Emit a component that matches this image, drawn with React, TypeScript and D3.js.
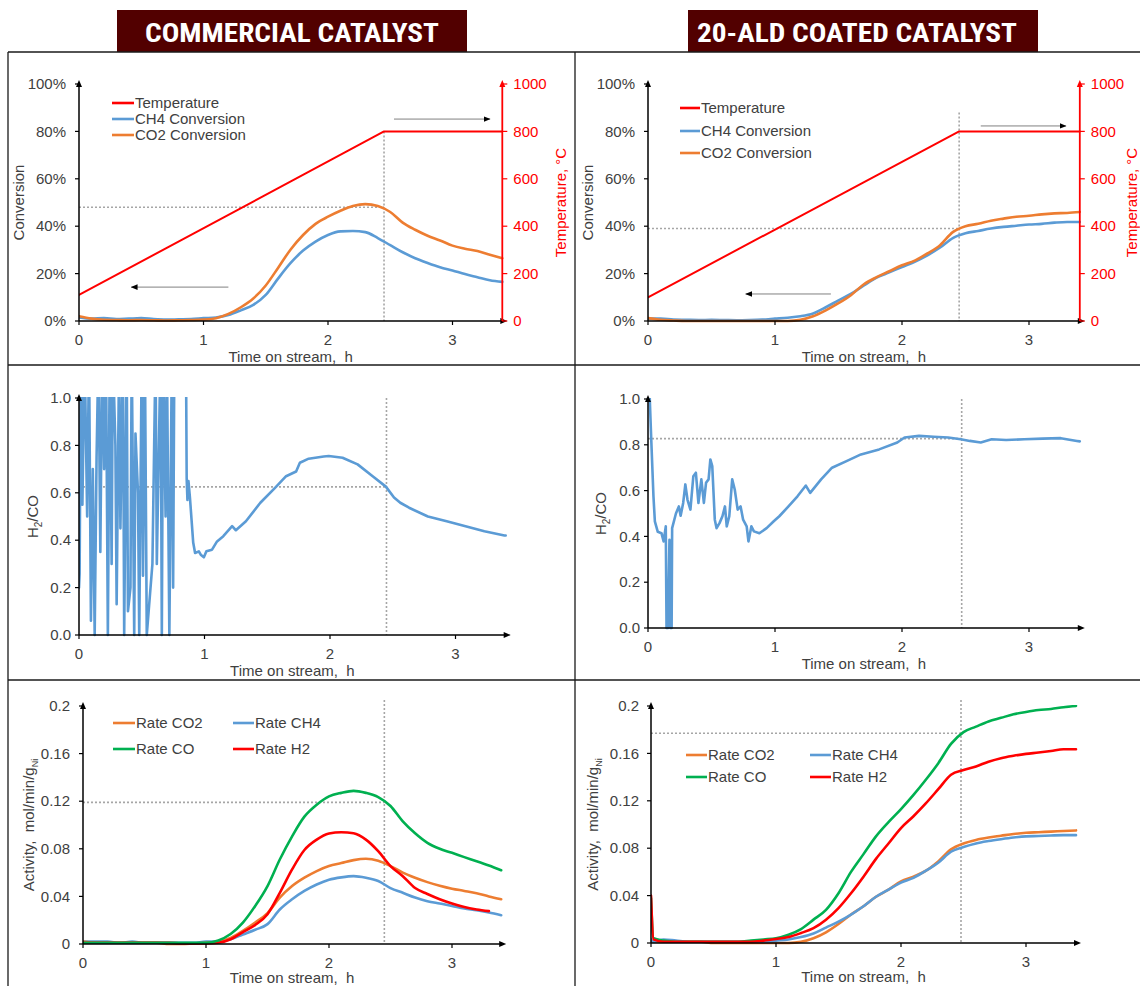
import React from 'react';
import * as d3 from 'd3';

type Pair = [number, number | null];

const FONT = '"Liberation Sans", Arial, sans-serif';
const TITLE_FONT = '"Liberation Sans Narrow", "Roboto Condensed", "DejaVu Sans Condensed", "Liberation Sans", sans-serif';
const TXT = '#404040';
const BLUE = '#5B9BD5';
const ORANGE = '#ED7D31';
const GREEN = '#00B050';
const RED = '#FF0000';
const DOT = '#A6A6A6';

// ---------- data ----------
const hours = [0, 0.1, 0.2, 0.3, 0.4, 0.5, 0.6, 0.7, 0.8, 0.9, 1.0, 1.1, 1.2, 1.3, 1.4, 1.5, 1.6, 1.7,
  1.8, 1.9, 2.0, 2.1, 2.2, 2.3, 2.4, 2.5, 2.6, 2.7, 2.8, 2.9, 3.0, 3.1, 3.2, 3.3, 3.4];
const hoursAld = [0, 0.02, 0.1, 0.2, 0.3, 0.4, 0.5, 0.6, 0.7, 0.8, 0.9, 1.0, 1.1, 1.2, 1.3, 1.4, 1.5, 1.6, 1.7,
  1.8, 1.9, 2.0, 2.1, 2.2, 2.3, 2.4, 2.5, 2.6, 2.7, 2.8, 2.9, 3.0, 3.1, 3.2, 3.3, 3.4];

const xTicks = [0, 1, 2, 3];
const convTicks = [0, 0.2, 0.4, 0.6, 0.8, 1];
const tempTicks = [0, 200, 400, 600, 800, 1000];
const ratioTicks = [0, 0.2, 0.4, 0.6, 0.8, 1];
const rateTicks = [0, 0.04, 0.08, 0.12, 0.16, 0.2];

// commercial catalyst: conversion (fraction)
const comCH4 = [0.015, 0.01, 0.012, 0.008, 0.01, 0.012, 0.008, 0.006, 0.007, 0.008, 0.012, 0.015, 0.025, 0.045,
  0.068, 0.11, 0.18, 0.245, 0.297, 0.335, 0.363, 0.378, 0.38, 0.375, 0.35, 0.32, 0.29, 0.265, 0.245, 0.227,
  0.213, 0.198, 0.185, 0.172, 0.165];
const comCO2 = [0.02, 0.01, 0.005, 0.004, 0.003, 0.004, 0.003, 0.002, 0.003, 0.004, 0.006, 0.012, 0.03, 0.058,
  0.095, 0.15, 0.225, 0.302, 0.363, 0.41, 0.44, 0.465, 0.485, 0.493, 0.485, 0.46, 0.415, 0.385, 0.36, 0.34,
  0.318, 0.305, 0.295, 0.28, 0.265];
const comTemp: Pair[] = [[0, 110], [2.45, 800], [3.4, 800]];

// ALD coated catalyst: conversion (fraction)
const aldCH4 = [0.01, 0.01, 0.006, 0.005, 0.004, 0.005, 0.004, 0.003, 0.004, 0.006, 0.01, 0.014, 0.02, 0.032,
  0.058, 0.087, 0.115, 0.15, 0.183, 0.205, 0.228, 0.25, 0.277, 0.31, 0.35, 0.37, 0.38, 0.39, 0.397, 0.402,
  0.407, 0.41, 0.415, 0.418, 0.418];
const aldCO2 = [0.012, 0.005, 0.002, 0, 0, 0, 0, 0, 0, 0, 0, 0, 0.005, 0.02, 0.045, 0.075, 0.11, 0.155, 0.185,
  0.21, 0.235, 0.255, 0.285, 0.32, 0.375, 0.4, 0.41, 0.423, 0.432, 0.44, 0.444, 0.45, 0.454, 0.456, 0.46];
const aldTemp: Pair[] = [[0, 100], [2.45, 800], [3.4, 800]];

// H2/CO ratio
const comRatio: Pair[] = [[0, 0.2], [0.005, 0.26], [0.015, 1.2], [0.027, 0.55], [0.045, 1.2], [0.065, 0.5],
  [0.08, 1.2], [0.095, 0.06], [0.11, 0.7], [0.125, 0], [0.14, 0.75], [0.155, 1.2], [0.17, 0.35], [0.185, 1.2],
  [0.2, 0.7], [0.215, 1.2], [0.23, 0], [0.245, 1.2], [0.26, 0.3], [0.27, 1.2], [0.29, 0.8], [0.3, 0.13],
  [0.32, 1.2], [0.33, 0.45], [0.35, 1.2], [0.36, 0], [0.38, 1.2], [0.39, 0.1], [0.41, 0.2], [0.42, 1.2],
  [0.44, 0], [0.45, 0.85], [0.47, 0.6], [0.48, 0], [0.5, 1.2], [0.51, 0.25], [0.525, 1.2], [0.54, 0],
  [0.585, 0.3], [0.61, 1.2], [0.62, 0.3], [0.65, 1.2], [0.66, 0], [0.67, 1.2], [0.69, 0.5], [0.7, 1.2],
  [0.72, 0], [0.74, 1.2], [0.75, 0.2], [0.76, 1.2], [0.85, 1.4], [0.858, 0.66], [0.864, 0.57], [0.872, 0.65],
  [0.884, 0.58], [0.91, 0.39], [0.925, 0.346], [0.955, 0.353], [0.97, 0.339], [0.995, 0.328], [1.015, 0.353],
  [1.06, 0.36], [1.1, 0.395], [1.15, 0.417], [1.22, 0.459], [1.25, 0.442], [1.33, 0.48], [1.445, 0.558],
  [1.56, 0.62], [1.65, 0.67], [1.73, 0.69], [1.76, 0.727], [1.83, 0.744], [1.95, 0.753], [1.99, 0.755],
  [2.1, 0.748], [2.22, 0.72], [2.34, 0.67], [2.445, 0.626], [2.51, 0.58], [2.56, 0.558], [2.63, 0.537],
  [2.78, 0.5], [2.93, 0.48], [3.08, 0.459], [3.23, 0.438], [3.39, 0.42], [3.4, 0.42]];
const aldRatio: Pair[] = [[0, 1.2], [0.014, 1.0], [0.026, 0.817], [0.043, 0.575], [0.054, 0.466], [0.077, 0.42],
  [0.106, 0.414], [0.123, 0.378], [0.14, 0.444], [0.146, 0], [0.157, 0], [0.169, 0.385], [0.177, 0], [0.186, 0],
  [0.19, 0.436], [0.22, 0.5], [0.243, 0.531], [0.257, 0.49], [0.277, 0.546], [0.294, 0.627], [0.311, 0.56],
  [0.334, 0.517], [0.357, 0.663], [0.377, 0.678], [0.397, 0.546], [0.42, 0.649], [0.44, 0.546], [0.457, 0.634],
  [0.477, 0.649], [0.491, 0.736], [0.506, 0.707], [0.526, 0.473], [0.54, 0.436], [0.563, 0.458], [0.586, 0.488],
  [0.606, 0.531], [0.62, 0.444], [0.64, 0.488], [0.663, 0.649], [0.683, 0.605], [0.706, 0.517], [0.729, 0.531],
  [0.749, 0.473], [0.777, 0.444], [0.791, 0.378], [0.814, 0.444], [0.834, 0.422], [0.877, 0.414], [0.934, 0.436],
  [0.99, 0.466], [1.034, 0.488], [1.106, 0.531], [1.177, 0.575], [1.243, 0.622], [1.277, 0.59], [1.363, 0.649],
  [1.449, 0.7], [1.563, 0.729], [1.677, 0.758], [1.82, 0.78], [1.963, 0.81], [2.02, 0.832], [2.134, 0.839],
  [2.249, 0.835], [2.363, 0.832], [2.463, 0.824], [2.534, 0.817], [2.62, 0.81], [2.706, 0.824], [2.82, 0.821],
  [2.963, 0.824], [3.106, 0.827], [3.25, 0.829], [3.377, 0.817], [3.4, 0.815]];

// activity, mol/min/gNi
const comRateCO2 = [0.002, 0.001, 0.001, 0.001, 0.001, 0.001, 0.001, 0, 0, 0.0005, 0.001, 0.002, 0.005, 0.011,
  0.018, 0.026, 0.039, 0.0487, 0.0557, 0.0613, 0.0655, 0.068, 0.0705, 0.0716, 0.07, 0.0655, 0.06, 0.0557, 0.052,
  0.049, 0.0465, 0.0446, 0.0426, 0.04, 0.0376];
const comRateCH4 = [0.002, 0.002, 0.002, 0.001, 0.002, 0.001, 0.001, 0.001, 0.001, 0.001, 0.002, 0.002, 0.004,
  0.008, 0.012, 0.0167, 0.029, 0.0376, 0.0446, 0.05, 0.054, 0.056, 0.057, 0.0557, 0.053, 0.047, 0.043, 0.039,
  0.036, 0.034, 0.032, 0.0298, 0.0284, 0.0265, 0.0242];
const comRateCO = [0.001, 0.001, 0.001, 0.001, 0.001, 0.001, 0.001, 0.001, 0.001, 0.001, 0.001, 0.003, 0.0084,
  0.018, 0.032, 0.0487, 0.071, 0.0905, 0.107, 0.117, 0.124, 0.127, 0.1287, 0.127, 0.1235, 0.116, 0.103, 0.093,
  0.085, 0.08, 0.0766, 0.073, 0.0696, 0.066, 0.062];
const comRateH2 = [0.001, 0.001, 0.001, 0.001, 0.001, 0.001, 0.001, 0.001, 0.0005, 0.0005, 0.0005, 0.001, 0.004,
  0.01, 0.016, 0.025, 0.043, 0.0627, 0.079, 0.0877, 0.0928, 0.0939, 0.093, 0.0877, 0.078, 0.0655, 0.057, 0.047,
  0.042, 0.0376, 0.034, 0.031, 0.029, 0.0276, null];

const aldRateCO2 = [0.002, 0.001, 0.001, 0.001, 0.001, 0.001, 0, 0, 0, 0, 0, 0, 0, 0.001, 0.004, 0.009, 0.016,
  0.024, 0.031, 0.039, 0.045, 0.052, 0.056, 0.061, 0.069, 0.079, 0.084, 0.087, 0.089, 0.0905, 0.092, 0.093,
  0.0935, 0.094, 0.0945, 0.095];
const aldRateCH4 = [0.003, 0.001, 0.003, 0.002, 0.001, 0.001, 0.001, 0.001, 0.001, 0.001, 0.001, 0.002, 0.003,
  0.005, 0.008, 0.013, 0.018, 0.024, 0.031, 0.039, 0.045, 0.051, 0.055, 0.061, 0.068, 0.077, 0.081, 0.084, 0.086,
  0.0876, 0.089, 0.09, 0.0903, 0.0907, 0.091, 0.091];
const aldRateCO = [0.038, 0.004, 0.002, 0.001, 0.001, 0.001, 0.001, 0.001, 0.001, 0.002, 0.003, 0.004, 0.007,
  0.0118, 0.0197, 0.028, 0.042, 0.06, 0.075, 0.09, 0.102, 0.113, 0.125, 0.138, 0.152, 0.168, 0.178, 0.1826, 0.187,
  0.19, 0.193, 0.195, 0.1966, 0.1975, 0.199, 0.2];
const aldRateH2 = [0.04, 0.003, 0.001, 0.001, 0.001, 0.001, 0.001, 0.001, 0.001, 0.001, 0.002, 0.0034, 0.005,
  0.0084, 0.0126, 0.0197, 0.0295, 0.042, 0.056, 0.071, 0.084, 0.097, 0.107, 0.118, 0.13, 0.142, 0.146, 0.149,
  0.153, 0.156, 0.158, 0.1596, 0.1607, 0.162, 0.1635, 0.1635];

const zip = (ts: number[], vs: (number | null)[]): Pair[] => ts.map((t, i) => [t, vs[i]]);

// ---------- components ----------
interface Series { data: Pair[]; color: string; width?: number; smooth?: boolean; temp?: boolean }
interface LegendItem { label: string; color: string; x: number; y: number; len: number }

interface PanelProps {
  id: string;
  x0: number; pxh: number; yTop: number; yBot: number;
  yMax: number; yTicks: number[]; yFmt: (v: number) => string; labelGap: number;
  yTitle: React.ReactNode; yTitleX: number;
  xTitleDy?: number;
  series: Series[];
  refT: number; refV: number; refTop: number;
  tempAxis?: { titleX: number };
  legend: LegendItem[];
  arrows?: { t1: number; t2: number; v: number }[];
}

function Panel(p: PanelProps) {
  const x = d3.scaleLinear().domain([0, 3.4]).range([p.x0, p.x0 + 3.4 * p.pxh]);
  const y = d3.scaleLinear().domain([0, p.yMax]).range([p.yBot, p.yTop]);
  const yT = d3.scaleLinear().domain([0, 1000]).range([p.yBot, p.yTop]);
  const xEnd = x(3.4);
  const cy = (p.yTop + p.yBot) / 2;

  const mkLine = (s: Series) => {
    const sy = s.temp ? yT : y;
    return d3.line<Pair>()
      .defined((d) => d[1] != null)
      .x((d) => x(d[0]))
      .y((d) => sy(d[1] as number))
      .curve(s.smooth ? d3.curveMonotoneX : d3.curveLinear)(s.data) || '';
  };

  return (
    <g>
      <defs>
        <clipPath id={`clip-${p.id}`}>
          <rect x={p.x0} y={p.yTop - 1} width={xEnd - p.x0 + 2} height={p.yBot - p.yTop + 3} />
        </clipPath>
      </defs>

      {/* reference dotted lines */}
      <line x1={x(0)} x2={x(p.refT)} y1={y(p.refV)} y2={y(p.refV)} stroke={DOT} strokeWidth={1.6} strokeDasharray="2 2" />
      <line x1={x(p.refT)} x2={x(p.refT)} y1={y(p.refTop)} y2={p.yBot} stroke={DOT} strokeWidth={1.6} strokeDasharray="2 2" />

      {/* annotation arrows */}
      {(p.arrows || []).map((a, i) => (
        <line key={i} x1={x(a.t1)} x2={x(a.t2)} y1={y(a.v)} y2={y(a.v)} stroke="#808080" strokeWidth={1}
          markerEnd="url(#ann-arrow)" />
      ))}

      {/* series */}
      <g clipPath={`url(#clip-${p.id})`}>
        {p.series.map((s, i) => (
          <path key={i} d={mkLine(s)} fill="none" stroke={s.color} strokeWidth={s.width ?? 2.6}
            strokeLinejoin="round" strokeLinecap="round" />
        ))}
      </g>

      {/* x axis */}
      <line x1={p.x0} x2={xEnd} y1={p.yBot} y2={p.yBot} stroke="#000" strokeWidth={1.5} />
      <path d={`M${xEnd + 5},${p.yBot} L${xEnd - 2},${p.yBot - 3} L${xEnd - 2},${p.yBot + 3} Z`} fill="#000" />
      {xTicks.map((t) => (
        <g key={t}>
          <line x1={x(t)} x2={x(t)} y1={p.yBot} y2={p.yBot + 4} stroke="#000" strokeWidth={1.2} />
          <text x={x(t)} y={p.yBot + 24} textAnchor="middle" fontSize={15} fill={TXT}>{t}</text>
        </g>
      ))}
      <text x={(p.x0 + xEnd) / 2} y={p.yBot + (p.xTitleDy ?? 41)} textAnchor="middle" fontSize={15} fill={TXT}>
        {'Time on stream,\u00a0 h'}
      </text>

      {/* y axis */}
      <line x1={p.x0} x2={p.x0} y1={p.yBot} y2={p.yTop} stroke="#000" strokeWidth={1.5} />
      <path d={`M${p.x0},${p.yTop - 4} L${p.x0 - 3},${p.yTop + 3} L${p.x0 + 3},${p.yTop + 3} Z`} fill="#000" />
      {p.yTicks.map((v) => (
        <g key={v}>
          <line x1={p.x0 - 4} x2={p.x0} y1={y(v)} y2={y(v)} stroke="#000" strokeWidth={1.2} />
          <text x={p.x0 - p.labelGap} y={y(v)} dy="0.35em" textAnchor="end" fontSize={15} fill={TXT}>{p.yFmt(v)}</text>
        </g>
      ))}
      <text transform={`translate(${p.yTitleX},${cy}) rotate(-90)`} textAnchor="middle" fontSize={15} fill={TXT}>
        {p.yTitle}
      </text>

      {/* temperature axis */}
      {p.tempAxis && (
        <g>
          <line x1={xEnd} x2={xEnd} y1={p.yBot} y2={p.yTop} stroke={RED} strokeWidth={1.8} />
          <path d={`M${xEnd},${p.yTop - 4} L${xEnd - 3},${p.yTop + 3} L${xEnd + 3},${p.yTop + 3} Z`} fill={RED} />
          {tempTicks.map((v) => (
            <g key={v}>
              <line x1={xEnd} x2={xEnd + 5} y1={yT(v)} y2={yT(v)} stroke={RED} strokeWidth={1.2} />
              <text x={xEnd + 11} y={yT(v)} dy="0.35em" fontSize={15} fill={RED}>{v}</text>
            </g>
          ))}
          <text transform={`translate(${p.tempAxis.titleX},${cy}) rotate(-90)`} textAnchor="middle" fontSize={15} fill={RED}>
            Temperature, °C
          </text>
        </g>
      )}

      {/* legend */}
      {p.legend.map((l) => (
        <g key={l.label}>
          <line x1={l.x} x2={l.x + l.len} y1={l.y} y2={l.y} stroke={l.color} strokeWidth={2.6} />
          <text x={l.x + l.len + 1} y={l.y} dy="0.35em" fontSize={15} fill={TXT}>{l.label}</text>
        </g>
      ))}
    </g>
  );
}

const pct = (v: number) => `${Math.round(v * 100)}%`;
const oneDec = d3.format('.1f');
const rateFmt = (v: number) => (v === 0 ? '0' : String(+v.toFixed(2)));

export default function App() {
  const h2co = (
    <>H<tspan dy={4} fontSize={10}>2</tspan><tspan dy={-4}>/CO</tspan></>
  );
  const activity = (
    <>{'Activity,\u00a0 mol/min/g'}<tspan dy={4} fontSize={9}>Ni</tspan></>
  );

  return (
    <svg width={1140} height={986} style={{ position: 'absolute', left: 0, top: 0 }} fontFamily={FONT}>
      <defs>
        <marker id="ann-arrow" viewBox="0 0 10 10" refX="9" refY="5" markerWidth="7" markerHeight="7"
          markerUnits="userSpaceOnUse" orient="auto">
          <path d="M0,1 L10,5 L0,9 Z" fill="#000" />
        </marker>
      </defs>
      <rect width={1140} height={986} fill="#fff" />

      {/* titles */}
      <rect x={117} y={10} width={350} height={42} fill="#520000" />
      <text x={292} y={42} textAnchor="middle" fontFamily={TITLE_FONT} fontWeight="bold" fontSize={26}
        fill="#fff" textLength={294} lengthAdjust="spacingAndGlyphs">COMMERCIAL CATALYST</text>
      <rect x={688} y={10} width={350} height={42} fill="#520000" />
      <text x={857} y={42} textAnchor="middle" fontFamily={TITLE_FONT} fontWeight="bold" fontSize={26}
        fill="#fff" textLength={320} lengthAdjust="spacingAndGlyphs">20-ALD COATED CATALYST</text>

      {/* panel grid */}
      <g stroke="#1a1a1a" strokeWidth={1.3}>
        <line x1={8} x2={1140} y1={52} y2={52} />
        <line x1={8} x2={1140} y1={365} y2={365} />
        <line x1={8} x2={1140} y1={680} y2={680} />
        <line x1={8} x2={8} y1={52} y2={986} />
        <line x1={575} x2={575} y1={52} y2={986} />
      </g>

      <Panel id="p1" x0={79} pxh={124.5} yTop={84} yBot={321} yMax={1} yTicks={convTicks} yFmt={pct} labelGap={13}
        yTitle="Conversion" yTitleX={24}
        series={[
          { data: zip(hours, comCH4), color: BLUE, smooth: true },
          { data: zip(hours, comCO2), color: ORANGE, smooth: true },
          { data: comTemp, color: RED, width: 2, temp: true },
        ]}
        refT={2.45} refV={0.48} refTop={0.8}
        tempAxis={{ titleX: 566 }}
        arrows={[{ t1: 1.2, t2: 0.42, v: 0.143 }, { t1: 2.53, t2: 3.3, v: 0.852 }]}
        legend={[
          { label: 'Temperature', color: RED, x: 112, y: 103, len: 22 },
          { label: 'CH4 Conversion', color: BLUE, x: 112, y: 119, len: 22 },
          { label: 'CO2 Conversion', color: ORANGE, x: 112, y: 135, len: 22 },
        ]}
      />

      <Panel id="p2" x0={648} pxh={127} yTop={84} yBot={321} yMax={1} yTicks={convTicks} yFmt={pct} labelGap={13}
        yTitle="Conversion" yTitleX={593}
        series={[
          { data: zip(hours, aldCH4), color: BLUE, smooth: true },
          { data: zip(hours, aldCO2), color: ORANGE, smooth: true },
          { data: aldTemp, color: RED, width: 2, temp: true },
        ]}
        refT={2.45} refV={0.39} refTop={0.88}
        tempAxis={{ titleX: 1137 }}
        arrows={[{ t1: 1.44, t2: 0.77, v: 0.114 }, { t1: 2.62, t2: 3.29, v: 0.823 }]}
        legend={[
          { label: 'Temperature', color: RED, x: 680, y: 108, len: 20 },
          { label: 'CH4 Conversion', color: BLUE, x: 680, y: 131, len: 20 },
          { label: 'CO2 Conversion', color: ORANGE, x: 680, y: 153, len: 20 },
        ]}
      />

      <Panel id="p3" x0={79} pxh={125.5} yTop={398} yBot={635} yMax={1} yTicks={ratioTicks} yFmt={oneDec} labelGap={8}
        yTitle={h2co} yTitleX={38}
        series={[{ data: comRatio, color: BLUE }]}
        refT={2.45} refV={0.625} refTop={1}
        legend={[]}
      />

      <Panel id="p4" x0={648} pxh={127} yTop={399} yBot={628} yMax={1} yTicks={ratioTicks} yFmt={oneDec} labelGap={8}
        yTitle={h2co} yTitleX={606}
        series={[{ data: aldRatio, color: BLUE }]}
        refT={2.47} refV={0.827} refTop={1}
        legend={[]}
      />

      <Panel id="p5" x0={83} pxh={123} yTop={706} yBot={944} yMax={0.2} yTicks={rateTicks} yFmt={rateFmt} labelGap={13}
        yTitle={activity} yTitleX={34} xTitleDy={39}
        series={[
          { data: zip(hours, comRateCH4), color: BLUE, smooth: true },
          { data: zip(hours, comRateCO2), color: ORANGE, smooth: true },
          { data: zip(hours, comRateH2), color: RED, smooth: true },
          { data: zip(hours, comRateCO), color: GREEN, smooth: true },
        ]}
        refT={2.45} refV={0.119} refTop={0.205}
        legend={[
          { label: 'Rate CO2', color: ORANGE, x: 113, y: 723, len: 22 },
          { label: 'Rate CH4', color: BLUE, x: 233, y: 723, len: 21 },
          { label: 'Rate CO', color: GREEN, x: 113, y: 749, len: 22 },
          { label: 'Rate H2', color: RED, x: 233, y: 749, len: 21 },
        ]}
      />

      <Panel id="p6" x0={651} pxh={125} yTop={706} yBot={943} yMax={0.2} yTicks={rateTicks} yFmt={rateFmt} labelGap={12}
        yTitle={activity} yTitleX={598} xTitleDy={39}
        series={[
          { data: zip(hoursAld, aldRateCO2), color: ORANGE, smooth: true },
          { data: zip(hoursAld, aldRateCH4), color: BLUE, smooth: true },
          { data: zip(hoursAld, aldRateCO), color: GREEN, smooth: true },
          { data: zip(hoursAld, aldRateH2), color: RED, smooth: true },
        ]}
        refT={2.48} refV={0.177} refTop={0.205}
        legend={[
          { label: 'Rate CO2', color: ORANGE, x: 686, y: 755, len: 21 },
          { label: 'Rate CH4', color: BLUE, x: 810, y: 755, len: 21 },
          { label: 'Rate CO', color: GREEN, x: 686, y: 777, len: 21 },
          { label: 'Rate H2', color: RED, x: 810, y: 777, len: 21 },
        ]}
      />
    </svg>
  );
}
